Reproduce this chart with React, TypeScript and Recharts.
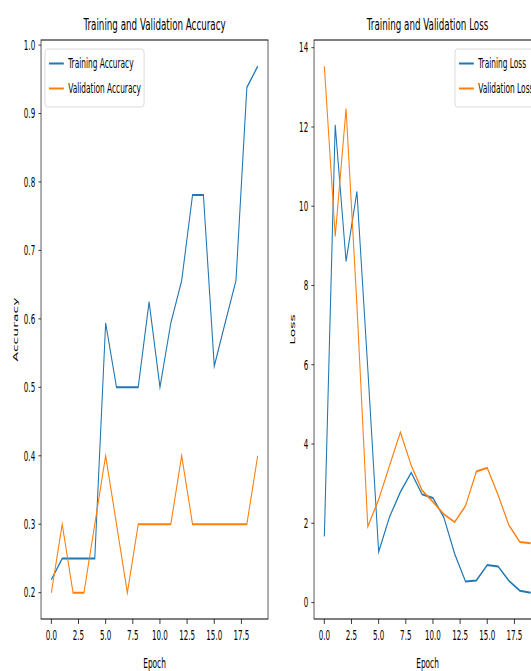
import React from 'react';
import { LineChart, Line, XAxis, YAxis, ReferenceArea } from 'recharts';

// values
const epochs = [0, 1, 2, 3, 4, 5, 6, 7, 8, 9, 10, 11, 12, 13, 14, 15, 16, 17, 18, 19];
const trainAcc = [0.219, 0.25, 0.25, 0.25, 0.25, 0.594, 0.5, 0.5, 0.5, 0.625, 0.5, 0.594, 0.656, 0.781, 0.781, 0.531, 0.594, 0.656, 0.938, 0.969];
const valAcc = [0.2, 0.3, 0.2, 0.2, 0.3, 0.4, 0.3, 0.2, 0.3, 0.3, 0.3, 0.3, 0.4, 0.3, 0.3, 0.3, 0.3, 0.3, 0.3, 0.4];
const trainLoss = [1.67, 12.05, 8.61, 10.37, 5.9, 1.28, 2.16, 2.79, 3.28, 2.73, 2.64, 2.15, 1.23, 0.53, 0.56, 0.95, 0.91, 0.55, 0.3, 0.25];
const valLoss = [13.53, 9.24, 12.46, 7.5, 1.92, 2.6, 3.45, 4.3, 3.46, 2.83, 2.54, 2.23, 2.03, 2.44, 3.31, 3.4, 2.71, 1.95, 1.53, 1.5];

const epochTicks = [0, 2.5, 5, 7.5, 10, 12.5, 15, 17.5];
const accTicks = [0.2, 0.3, 0.4, 0.5, 0.6, 0.7, 0.8, 0.9, 1.0];
const lossTicks = [0, 2, 4, 6, 8, 10, 12, 14];

const BLUE = '#1f77b4';
const ORANGE = '#ff7f0e';
const SQ = 0.53; // the reference is squeezed horizontally

// matplotlib style 5% margins
const pad = (vals: number[]): [number, number] => {
  const lo = Math.min(...vals);
  const hi = Math.max(...vals);
  const m = (hi - lo) * 0.05;
  return [lo - m, hi + m];
};

const xDomain = pad(epochs);
const accDomain = pad([...trainAcc, ...valAcc]);
const lossDomain = pad([...trainLoss, ...valLoss]);

const accData = epochs.map((e, i) => ({ epoch: e, train: trainAcc[i], val: valAcc[i] }));
const lossData = epochs.map((e, i) => ({ epoch: e, train: trainLoss[i], val: valLoss[i] }));

const tickStyle = { fill: '#000', fontSize: 13.5 };

function Panel({ data, yDomain, yTicks, yFmt, yWidth, width, marginRight }: any) {
  return (
    <LineChart width={width} height={671} data={data} margin={{ top: 40, right: marginRight, left: 0, bottom: 0 }}>
      <XAxis
        dataKey="epoch"
        type="number"
        domain={xDomain}
        ticks={epochTicks}
        interval={0}
        allowDataOverflow
        height={52}
        axisLine={false}
        tickLine={{ stroke: '#000' }}
        tickSize={5}
        tickMargin={6}
        tick={tickStyle}
        tickFormatter={(v: number) => v.toFixed(1)}
      />
      <YAxis
        type="number"
        domain={yDomain}
        ticks={yTicks}
        interval={0}
        allowDataOverflow
        width={yWidth}
        axisLine={false}
        tickLine={{ stroke: '#000' }}
        tickSize={5}
        tickMargin={6}
        tick={tickStyle}
        tickFormatter={yFmt}
      />
      <ReferenceArea
        x1={xDomain[0]}
        x2={xDomain[1]}
        y1={yDomain[0]}
        y2={yDomain[1]}
        fill="none"
        stroke="#000"
        strokeWidth={1.2}
        ifOverflow="visible"
      />
      <Line type="linear" dataKey="train" stroke={BLUE} strokeWidth={2} dot={false} isAnimationActive={false} />
      <Line type="linear" dataKey="val" stroke={ORANGE} strokeWidth={2} dot={false} isAnimationActive={false} />
    </LineChart>
  );
}

function LegendBox({ x, y, w, h, labels }: any) {
  return (
    <g>
      <rect x={x} y={y} width={w} height={h} rx={4} fill="#fff" stroke="#d0d0d0" strokeWidth={1} />
      <line x1={x + 7.5} x2={x + 35.5} y1={y + 14.5} y2={y + 14.5} stroke={BLUE} strokeWidth={2} />
      <text x={x + 43.7} y={y + 19.5} fontSize={14} fill="#000">{labels[0]}</text>
      <line x1={x + 7.5} x2={x + 35.5} y1={y + 39.5} y2={y + 39.5} stroke={ORANGE} strokeWidth={2} />
      <text x={x + 43.7} y={y + 44.5} fontSize={14} fill="#000">{labels[1]}</text>
    </g>
  );
}

export default function App() {
  return (
    <div style={{ position: 'absolute', left: 0, top: 0, width: 531, height: 671, overflow: 'hidden', background: '#fff' }}>
      <div
        style={{
          position: 'absolute',
          left: 0,
          top: 0,
          width: 1030,
          height: 671,
          transform: `scaleX(${SQ})`,
          transformOrigin: '0 0',
          fontFamily: '"DejaVu Sans", sans-serif',
        }}
      >
        <div style={{ position: 'absolute', left: 0, top: 0 }}>
          <Panel
            data={accData}
            yDomain={accDomain}
            yTicks={accTicks}
            yFmt={(v: number) => v.toFixed(1)}
            yWidth={77.4}
            width={530}
            marginRight={24.3}
          />
        </div>
        <div style={{ position: 'absolute', left: 530, top: 0 }}>
          <Panel
            data={lossData}
            yDomain={lossDomain}
            yTicks={lossTicks}
            yFmt={(v: number) => String(v)}
            yWidth={62.5}
            width={500}
            marginRight={9.2}
          />
        </div>
        <svg width={1030} height={671} style={{ position: 'absolute', left: 0, top: 0, overflow: 'visible' }}>
          <text x={291.6} y={30} textAnchor="middle" fontSize={16.5} fill="#000">Training and Validation Accuracy</text>
          <text x={806.7} y={30} textAnchor="middle" fontSize={16.5} fill="#000">Training and Validation Loss</text>
          <text x={291.6} y={668} textAnchor="middle" fontSize={14} fill="#000">Epoch</text>
          <text x={806.7} y={668} textAnchor="middle" fontSize={14} fill="#000">Epoch</text>
          <text transform="translate(34,329.5) rotate(-90)" textAnchor="middle" fontSize={14} fill="#000">Accuracy</text>
          <text transform="translate(556,329.5) rotate(-90)" textAnchor="middle" fontSize={14} fill="#000">Loss</text>
          <LegendBox x={84.9} y={49} w={187} h={58} labels={['Training Accuracy', 'Validation Accuracy']} />
          <LegendBox x={858.5} y={49} w={155.3} h={58} labels={['Training Loss', 'Validation Loss']} />
        </svg>
      </div>
    </div>
  );
}
